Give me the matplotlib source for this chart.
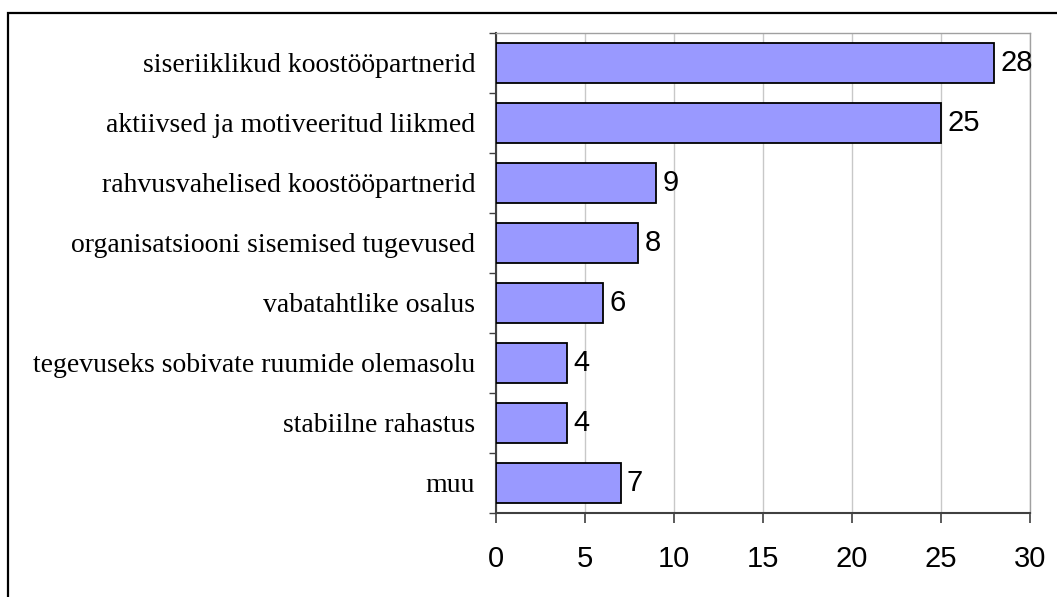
import numpy as np
import matplotlib.pyplot as plt
from matplotlib.patches import Rectangle

categories = ['siseriiklikud koostööpartnerid',
              'aktiivsed ja motiveeritud liikmed',
              'rahvusvahelised koostööpartnerid',
              'organisatsiooni sisemised tugevused',
              'vabatahtlike osalus',
              'tegevuseks sobivate ruumide olemasolu',
              'stabiilne rahastus',
              'muu']
values = [28, 25, 9, 8, 6, 4, 4, 7]
xticks = [0, 5, 10, 15, 20, 25, 30]

fig = plt.figure(figsize=(10.57, 5.97), dpi=100)
ax = fig.add_axes([496/1057, 1-513/597, (1030-496)/1057, (513-33)/597])

y = np.arange(len(categories))
ax.barh(y, values, height=0.67, color='#9999FF', edgecolor='black', linewidth=1.3, zorder=3)
for yi, v in zip(y, values):
    ax.text(v + 0.35, yi, str(v), va='center', ha='left', fontsize=21,
            family='Liberation Sans', zorder=4)

ax.set_ylim(len(categories) - 0.5, -0.5)
ax.set_xlim(0, 30)
ax.set_xticks(xticks)
ax.set_xticklabels([str(t) for t in xticks], fontsize=21, family='Liberation Sans')
ax.set_yticks(y)
ax.set_yticklabels(categories, fontsize=20, family='Liberation Serif')
ax.set_yticks(np.arange(-0.5, len(categories)), minor=True)
ax.tick_params(axis='y', which='major', length=0, pad=15)
ax.tick_params(axis='y', which='minor', length=5, width=1, color='#404040', direction='out')
ax.tick_params(axis='x', length=7, width=1.2, color='#404040', direction='out', pad=16)

ax.xaxis.grid(True, color='#C8C8C8', linewidth=1, zorder=0)
for s in ['top', 'right']:
    ax.spines[s].set_color('#A0A0A0')
    ax.spines[s].set_linewidth(1)
for s in ['left', 'bottom']:
    ax.spines[s].set_color('#404040')
    ax.spines[s].set_linewidth(1.5)

# outer chart border
fig.patches.append(Rectangle((8/1057, -0.2), 1.2, 1.2 - 13/597, transform=fig.transFigure,
                             fill=False, edgecolor='black', linewidth=1.6))

fig.savefig('out.png', dpi=100)
